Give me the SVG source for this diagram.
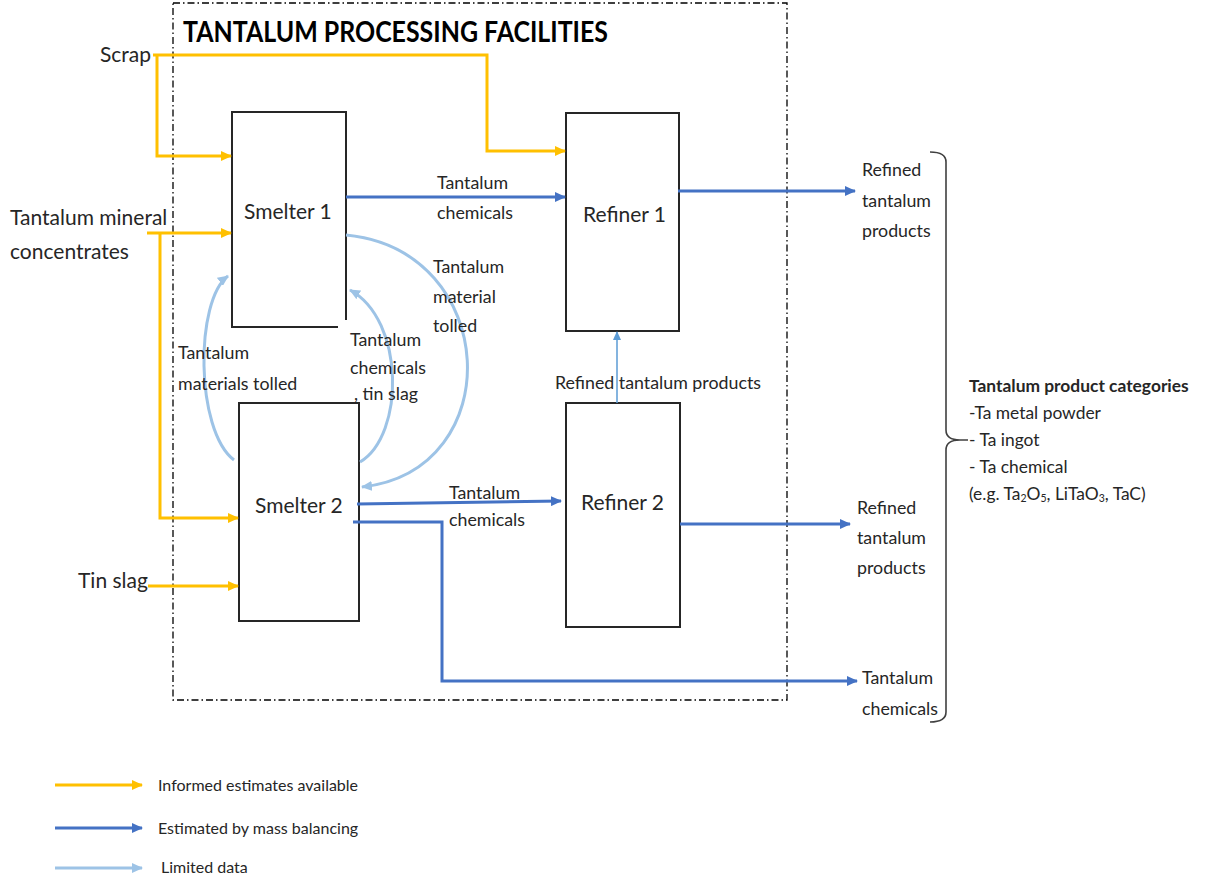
<svg xmlns="http://www.w3.org/2000/svg" width="1208" height="878" viewBox="0 0 1208 878">
  <style>
    text { font-family: Lato, "Open Sans", "Liberation Sans", sans-serif; fill: #262626; }
    .title { font-size: 29px; font-weight: bold; fill: #000; }
    .node { font-size: 21px; }
    .lbl { font-size: 17.8px; }
    .side { font-size: 21px; }
    .cat { font-size: 17.4px; }
    .leg { font-size: 16px; }
    .box { fill: #fff; stroke: #262626; stroke-width: 2; }
    .yel { fill: none; stroke: #FFC000; stroke-width: 3; }
    .blu { fill: none; stroke: #4472C4; stroke-width: 3; }
    .lt { fill: none; stroke: #9DC3E6; stroke-width: 3; }
    .thin { fill: none; stroke: #5B9BD5; stroke-width: 1.5; }
    .bound { fill: none; stroke: #000; stroke-width: 1.3; stroke-dasharray: 7 3 1.5 3; }
    .brace { fill: none; stroke: #404040; stroke-width: 1.6; }
  </style>
  <defs>
    <marker id="ay" markerUnits="userSpaceOnUse" markerWidth="11" markerHeight="10" refX="10" refY="5" orient="auto">
      <path d="M0,0 L11,5 L0,10 z" fill="#FFC000"/>
    </marker>
    <marker id="ab" markerUnits="userSpaceOnUse" markerWidth="11" markerHeight="10" refX="10" refY="5" orient="auto">
      <path d="M0,0 L11,5 L0,10 z" fill="#4472C4"/>
    </marker>
    <marker id="al" markerUnits="userSpaceOnUse" markerWidth="11" markerHeight="10" refX="10" refY="5" orient="auto">
      <path d="M0,0 L11,5 L0,10 z" fill="#9DC3E6"/>
    </marker>
    <marker id="at" markerUnits="userSpaceOnUse" markerWidth="9" markerHeight="8" refX="8" refY="4" orient="auto">
      <path d="M0,0 L9,4 L0,8 z" fill="#5B9BD5"/>
    </marker>
  </defs>

  <rect width="1208" height="878" fill="#fff"/>

  <!-- facility boundary -->
  <g id="boundary">
    <rect class="bound" x="173" y="3" width="614" height="697"/>
    <text class="title" x="183" y="42" textLength="425" lengthAdjust="spacingAndGlyphs">TANTALUM PROCESSING FACILITIES</text>
  </g>

  <!-- process units -->
  <g id="smelter1">
    <rect x="232" y="112" width="114" height="215" fill="#fff"/>
    <path d="M346 320 L346 112 L232 112 L232 327 L338 327" fill="none" stroke="#262626" stroke-width="2"/>
    <text class="node" x="244" y="219">Smelter 1</text>
  </g>
  <g id="smelter2">
    <rect class="box" x="239" y="403" width="120" height="218"/>
    <text class="node" x="255" y="513">Smelter 2</text>
  </g>
  <g id="refiner1">
    <rect class="box" x="566" y="113" width="113" height="218"/>
    <text class="node" x="583" y="222">Refiner 1</text>
  </g>
  <g id="refiner2">
    <rect class="box" x="566" y="403" width="114" height="224"/>
    <text class="node" x="581" y="510">Refiner 2</text>
  </g>

  <!-- flows -->
  <g id="connectors">
    <!-- informed estimates -->
    <path class="yel" d="M153 55 L487 55 L487 151 L565 151" marker-end="url(#ay)"/>
    <path class="yel" d="M157 55 L157 156 L231 156" marker-end="url(#ay)"/>
    <path class="yel" d="M147 233 L231 233" marker-end="url(#ay)"/>
    <path class="yel" d="M160 233 L160 518 L238 518" marker-end="url(#ay)"/>
    <path class="yel" d="M148 586 L238 586" marker-end="url(#ay)"/>

    <!-- mass balance -->
    <path class="blu" d="M346 197 L565 197" marker-end="url(#ab)"/>
    <path class="blu" d="M678 191 L855 191" marker-end="url(#ab)"/>
    <path class="blu" d="M357 504 L561 501" marker-end="url(#ab)"/>
    <path class="blu" d="M353 522 L442 522 L442 681 L857 681" marker-end="url(#ab)"/>
    <path class="blu" d="M680 524 L850 524" marker-end="url(#ab)"/>

    <!-- limited data -->
    <path class="lt" d="M234 460 C195 430 195 300 228 276" marker-end="url(#al)"/>
    <path class="lt" d="M360 462 C405 435 405 320 350 290" marker-end="url(#al)"/>
    <path class="lt" d="M346 235 C500 250 510 470 362 487" marker-end="url(#al)"/>
    <path class="thin" d="M617 403 L617 332" marker-end="url(#at)"/>
  </g>

  <!-- flow labels -->
  <g id="labels">
    <text class="side" x="100" y="62">Scrap</text>
    <text class="side" x="10" y="225">Tantalum mineral</text>
    <text class="side" x="10" y="259">concentrates</text>
    <text class="side" x="78" y="588">Tin slag</text>

    <text class="lbl" x="437" y="189">Tantalum</text>
    <text class="lbl" x="437" y="219">chemicals</text>

    <text class="lbl" x="433" y="273">Tantalum</text>
    <text class="lbl" x="433" y="303">material</text>
    <text class="lbl" x="433" y="332">tolled</text>

    <text class="lbl" x="350" y="346">Tantalum</text>
    <text class="lbl" x="350" y="374">chemicals</text>
    <text class="lbl" x="354" y="400">, tin slag</text>

    <text class="lbl" x="178" y="359">Tantalum</text>
    <text class="lbl" x="178" y="390">materials tolled</text>

    <text class="lbl" x="555" y="389">Refined tantalum products</text>

    <text class="lbl" x="449" y="499">Tantalum</text>
    <text class="lbl" x="449" y="526">chemicals</text>

    <text class="lbl" x="862" y="176">Refined</text>
    <text class="lbl" x="862" y="207">tantalum</text>
    <text class="lbl" x="862" y="237">products</text>

    <text class="lbl" x="857" y="514">Refined</text>
    <text class="lbl" x="857" y="544">tantalum</text>
    <text class="lbl" x="857" y="574">products</text>

    <text class="lbl" x="862" y="684">Tantalum</text>
    <text class="lbl" x="862" y="715">chemicals</text>
  </g>

  <!-- product categories -->
  <g id="categories">
    <path class="brace" d="M930 152 Q946 152 946 162 L946 430 Q946 440 960 440 L968 440 M960 440 Q946 440 946 450 L946 712 Q946 722 930 722"/>
    <text class="cat" x="969" y="392" font-weight="bold" fill="#000">Tantalum product categories</text>
    <text class="cat" x="969" y="419">-Ta metal powder</text>
    <text class="cat" x="969" y="446">- Ta ingot</text>
    <text class="cat" x="969" y="473">- Ta chemical</text>
    <text class="cat" x="969" y="500">(e.g. Ta<tspan font-size="10.5" dy="2">2</tspan><tspan dy="-2">O</tspan><tspan font-size="10.5" dy="2">5</tspan><tspan dy="-2">, LiTaO</tspan><tspan font-size="10.5" dy="2">3</tspan><tspan dy="-2">, TaC)</tspan></text>
  </g>

  <!-- key -->
  <g id="legend">
    <path class="yel" d="M55 785 L142 785" marker-end="url(#ay)"/>
    <text class="leg" x="158" y="791">Informed estimates available</text>
    <path class="blu" d="M55 828 L142 828" marker-end="url(#ab)"/>
    <text class="leg" x="158" y="834">Estimated by mass balancing</text>
    <path class="lt" d="M55 868 L142 868" marker-end="url(#al)"/>
    <text class="leg" x="161" y="873">Limited data</text>
  </g>
</svg>
